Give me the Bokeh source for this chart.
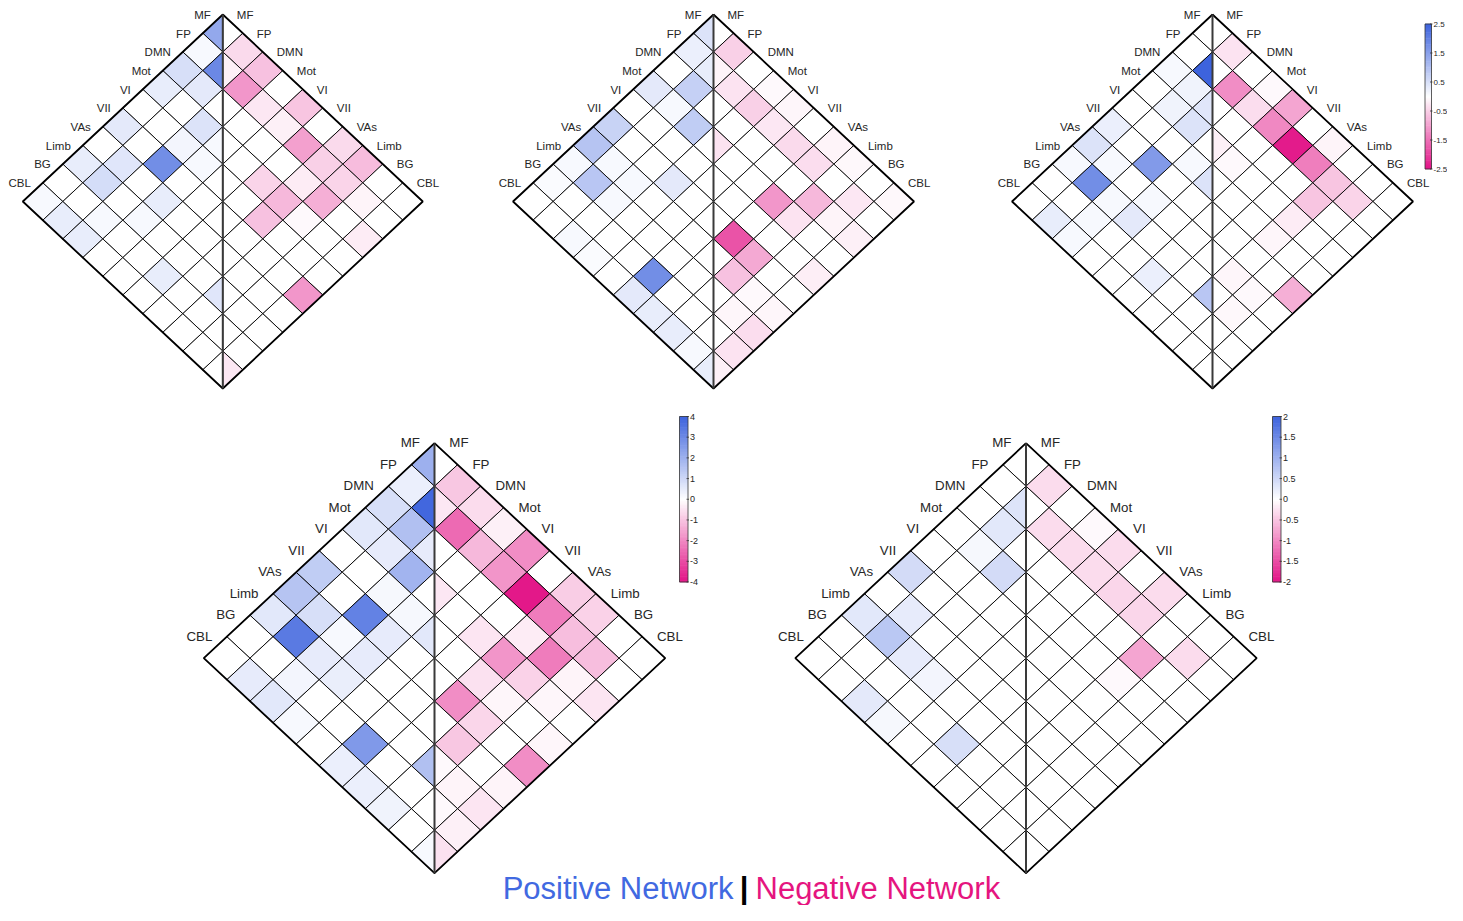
from bokeh.plotting import figure
from bokeh.models import Range1d, ColumnDataSource
from bokeh.transform import linear_cmap
from bokeh.embed import file_html
from bokeh.resources import INLINE
from bokeh.core.properties import value

NETWORKS = ["MF", "FP", "DMN", "Mot", "VI", "VII", "VAs", "Limb", "BG", "CBL"]

# lower triangles: row r (network), col c <= r
P1_POS = [
    [1.4],
    [0.1, 1.9],
    [0.5, 0.35, 0],
    [0.3, 0, 0.45, 0.1],
    [0, 0, 0.15, 0.1, 0],
    [0.35, 0, 1.8, 0, 0, 0],
    [0, 0.4, 0, 0.3, 0, 0, 0],
    [0.3, 0.55, 0, 0.1, 0, 0, 0, 0.4],
    [0, 0, 0.1, 0, 0, 0.3, 0, 0, 0],
    [0.1, 0.3, 0.3, 0, 0, 0, 0, 0, 0, 0],
]
P1_NEG = [
    [0],
    [-0.4, -0.15],
    [-0.65, -1.1, 0],
    [0, -0.25, 0, 0],
    [-0.6, -0.15, 0, 0, 0],
    [0, -1.0, 0, -0.45, 0, 0],
    [-0.4, -0.5, -0.2, -0.75, -0.65, 0, 0],
    [-0.7, -0.45, -0.85, -0.05, 0, 0, 0, 0],
    [0, -0.12, 0, 0, 0, 0, 0, 0, 0],
    [0, 0, -0.2, 0, 0, -1.1, 0, 0, 0, -0.25],
]
P2_POS = [
    [0.45],
    [0.25, 0.3],
    [0, 0.75, 0],
    [0.35, 0.1, 0.8, 0],
    [0, 0, 0, 0, 0],
    [0.7, 0, 0, 0.35, 0, 0],
    [0.95, 0.1, 0.1, 0, 0, 0, 0],
    [0.1, 0.9, 0.1, 0, 0, 0, 0, 0],
    [0.05, 0, 0, 0, 0, 1.8, 0, 0, 0],
    [0, 0, 0.1, 0.05, 0, 0.35, 0.3, 0.3, 0.1, 0.3],
]
P2_NEG = [
    [0],
    [-0.5, -0.12],
    [0, -0.3, 0],
    [-0.05, -0.5, 0, -0.3],
    [-0.1, -0.25, 0, 0, 0],
    [0, -0.4, 0, 0, 0, 0],
    [-0.12, -0.35, 0, -1.1, 0, -1.8, 0],
    [-0.08, 0, -0.75, -0.3, 0, -0.9, -0.65, 0],
    [0, -0.25, -0.12, 0, 0, 0, -0.05, -0.1, 0],
    [-0.08, 0, -0.15, 0, -0.18, 0, -0.1, -0.35, -0.3, -0.15],
]
P3_POS = [
    [0],
    [0, 2.5],
    [0.1, 0.2, 0.4],
    [0, 0.2, 0.45, 0],
    [0, 0, 0, 0.1, 0.45],
    [0.25, 0, 1.6, 0, 0, 0],
    [0.45, 0.1, 0, 0.1, 0, 0, 0],
    [0.1, 1.8, 0.1, 0.35, 0, 0, 0, 0.9],
    [0, 0, 0.1, 0, 0, 0.25, 0, 0, 0],
    [0, 0.3, 0.1, 0, 0, 0, 0, 0, 0, 0],
]
P3_NEG = [
    [0],
    [-0.3, 0],
    [0, -1.2, 0],
    [-0.05, -0.35, 0, -0.15],
    [-0.95, -1.25, 0, -0.05, 0],
    [0, -2.4, 0, 0, 0, 0],
    [-0.12, -1.35, 0, 0, 0, 0, 0],
    [0, -0.6, -0.6, -0.2, -0.1, 0, -0.1, 0],
    [0, -0.45, 0, 0, 0, 0, -0.05, -0.08, 0],
    [0, 0, 0, 0, 0, -0.85, 0, 0, 0, 0],
]
P4_POS = [
    [2.0],
    [0.4, 3.9],
    [0.8, 1.6, 0.5],
    [0.6, 0.5, 1.9, 0],
    [0, 0, 0.2, 0.2, 0.6],
    [1.3, 0, 3.2, 0.5, 0, 0],
    [1.5, 0.8, 0.15, 0.5, 0, 0, 0],
    [0.6, 3.4, 0.5, 0.45, 0, 0, 0, 1.6],
    [0, 0, 0.25, 0, 0, 2.6, 0, 0, 0],
    [0, 0.5, 0.6, 0.15, 0, 0.4, 0.4, 0.3, 0, 0.15],
]
P4_NEG = [
    [0],
    [-0.95, -0.4],
    [-0.6, -2.5, 0],
    [-0.25, -1.2, 0, -0.4],
    [-1.9, -1.8, 0, 0, 0],
    [0, -3.9, 0, -0.45, 0, 0],
    [-0.85, -2.2, -0.3, -1.8, -0.5, -1.9, 0],
    [-0.75, -1.1, -2.2, -0.75, -0.15, -0.7, -0.95, -0.1],
    [0, -1.1, -0.2, -0.15, 0, 0, 0, -0.2, -0.1],
    [0, 0, -0.45, 0, -0.15, -1.9, -0.2, -0.45, -0.25, -0.5],
]
P5_POS = [
    [0],
    [0, 0.35],
    [0, 0.3, 0],
    [0, 0.1, 0.45, 0],
    [0, 0, 0, 0, 0],
    [0.45, 0, 0, 0, 0, 0],
    [0, 0.25, 0, 0, 0, 0, 0],
    [0.3, 0.7, 0.25, 0.12, 0, 0, 0, 0],
    [0, 0, 0, 0, 0, 0.4, 0, 0, 0],
    [0, 0, 0.28, 0.1, 0, 0, 0, 0, 0, 0],
]
P5_NEG = [
    [0],
    [-0.3, 0],
    [0, -0.3, 0],
    [-0.05, -0.3, 0, 0],
    [-0.3, -0.3, 0, 0, 0],
    [0, -0.35, 0, 0, 0, 0],
    [-0.3, -0.35, 0, 0, 0, 0, 0],
    [0, 0, -0.75, -0.05, 0, 0, 0, 0],
    [0, -0.3, 0, 0, 0, 0, 0, 0, 0],
    [0, 0, 0, 0, 0, 0, 0, 0, 0, 0],
]

TOP_RANGE = 2.5
CB3_TICKS = [2.5, 1.5, 0.5, -0.5, -1.5, -2.5]
CB4_TICKS = [4, 3, 2, 1, 0, -1, -2, -3, -4]
CB5_TICKS = [2, 1.5, 1, 0.5, 0, -0.5, -1, -1.5, -2]

TITLE_POS = "Positive Network"
TITLE_SEP = "|"
TITLE_NEG = "Negative Network"

# ---------------- styling ----------------
BLUE = (61, 99, 221)
PINK = (226, 18, 134)
FONT = value("Liberation Sans")
LABEL_COLOR = "#262626"


def make_palette(n=255):
    pal = []
    for i in range(n):
        t = -1 + 2 * i / (n - 1)
        end, f = (PINK, -t) if t < 0 else (BLUE, t)
        rgb = [round(255 + (e - 255) * f) for e in end]
        pal.append("#%02x%02x%02x" % tuple(rgb))
    return pal


PALETTE = make_palette()

p = figure(width=1447, height=905,
           x_range=Range1d(0, 1447), y_range=Range1d(905, 0),
           x_axis_type=None, y_axis_type=None,
           toolbar_location=None, output_backend="svg",
           min_border=0, outline_line_color=None)
p.background_fill_color = "white"

PANELS = [
    dict(pos=P1_POS, neg=P1_NEG, vmax=TOP_RANGE, T=(222.3, 14.0), dx=20.0, dy=18.7,
         fs="11.5px", loff=(-2, -9), roff=(4, -9)),
    dict(pos=P2_POS, neg=P2_NEG, vmax=TOP_RANGE, T=(713.0, 14.0), dx=20.05, dy=18.7,
         fs="11.5px", loff=(-2, -9), roff=(4, -9)),
    dict(pos=P3_POS, neg=P3_NEG, vmax=TOP_RANGE, T=(1212.0, 14.0), dx=20.05, dy=18.7,
         fs="11.5px", loff=(-2, -9), roff=(4, -9)),
    dict(pos=P4_POS, neg=P4_NEG, vmax=max(CB4_TICKS), T=(434.0, 442.7), dx=23.07, dy=21.5,
         fs="13.3px", loff=(-3, -11), roff=(3.3, -11)),
    dict(pos=P5_POS, neg=P5_NEG, vmax=max(CB5_TICKS), T=(1025.5, 442.7), dx=23.07, dy=21.5,
         fs="13.3px", loff=(-3, -11), roff=(3.3, -11)),
]


def pt(P, u, v):
    tx, ty = P["T"]
    return tx + (v - u) * P["dx"], ty + (u + v) * P["dy"]


for P in PANELS:
    xs, ys, vals = [], [], []
    n = len(NETWORKS)
    # positive: left half, cell (u=r, v=c)
    for r, row in enumerate(P["pos"]):
        for c, val in enumerate(row):
            if r > c:
                corners = [(r, c), (r, c + 1), (r + 1, c + 1), (r + 1, c)]
            else:
                corners = [(r, r), (r + 1, r + 1), (r + 1, r)]
            pts = [pt(P, u, v) for u, v in corners]
            xs.append([q[0] for q in pts]); ys.append([q[1] for q in pts]); vals.append(val)
    # negative: right half, cell (u=c, v=r)
    for r, row in enumerate(P["neg"]):
        for c, val in enumerate(row):
            if r > c:
                corners = [(c, r), (c, r + 1), (c + 1, r + 1), (c + 1, r)]
            else:
                corners = [(c, c), (c, c + 1), (c + 1, c + 1)]
            pts = [pt(P, u, v) for u, v in corners]
            xs.append([q[0] for q in pts]); ys.append([q[1] for q in pts]); vals.append(val)
    src = ColumnDataSource(dict(xs=xs, ys=ys, val=vals))
    p.patches("xs", "ys", source=src,
              fill_color=linear_cmap("val", PALETTE, -P["vmax"], P["vmax"]),
              line_color="black", line_width=0.9)

    # outer border and centre line
    T = pt(P, 0, 0); L = pt(P, n, 0); B = pt(P, n, n); R = pt(P, 0, n)
    p.line([T[0], L[0], B[0], R[0], T[0]], [T[1], L[1], B[1], R[1], T[1]],
           line_color="black", line_width=1.8)
    p.line([T[0], B[0]], [T[1], B[1]], line_color="#3a3a3a", line_width=2)

    # labels
    lx, ly, rx, ry = [], [], [], []
    for k in range(n):
        x, y = pt(P, k + 0.5, 0)
        lx.append(x + P["loff"][0]); ly.append(y + P["loff"][1])
        x, y = pt(P, 0, k + 0.5)
        rx.append(x + P["roff"][0]); ry.append(y + P["roff"][1])
    p.text(x=lx, y=ly, text=NETWORKS, text_font=FONT, text_font_size=value(P["fs"]),
           text_align="right", text_baseline="middle", text_color=LABEL_COLOR)
    p.text(x=rx, y=ry, text=NETWORKS, text_font=FONT, text_font_size=value(P["fs"]),
           text_align="left", text_baseline="middle", text_color=LABEL_COLOR)

# ---------------- colour bars ----------------
CBARS = [
    dict(ticks=CB3_TICKS, x0=1424.5, x1=1431.0, y0=23.5, y1=168.5, fs="8px"),
    dict(ticks=CB4_TICKS, x0=679.0, x1=687.5, y0=416.0, y1=581.5, fs="9px"),
    dict(ticks=CB5_TICKS, x0=1272.0, x1=1280.5, y0=416.0, y1=581.5, fs="9px"),
]
for C in CBARS:
    vmax = max(C["ticks"]); vmin = min(C["ticks"])
    nseg = 120
    def ymap(v, C=C, vmax=vmax, vmin=vmin):
        return C["y0"] + (vmax - v) / (vmax - vmin) * (C["y1"] - C["y0"])
    step = (vmax - vmin) / nseg
    mids = [vmin + (i + 0.5) * step for i in range(nseg)]
    src = ColumnDataSource(dict(
        left=[C["x0"]] * nseg, right=[C["x1"]] * nseg,
        top=[ymap(m + step / 2) - 0.3 for m in mids],
        bottom=[ymap(m - step / 2) + 0.3 for m in mids],
        v=mids))
    p.quad(left="left", right="right", top="top", bottom="bottom", source=src,
           fill_color=linear_cmap("v", PALETTE, vmin, vmax), line_color=None)
    p.quad(left=[C["x0"]], right=[C["x1"]], top=[C["y0"]], bottom=[C["y1"]],
           fill_color=None, line_color="#333333", line_width=0.8)
    ty = [ymap(t) for t in C["ticks"]]
    p.segment(x0=[C["x1"] - 1.5] * len(ty), x1=[C["x1"] + 1.0] * len(ty), y0=ty, y1=ty,
              line_color="#333333", line_width=0.8)
    p.text(x=[C["x1"] + 2.0] * len(ty), y=ty, text=["%g" % t for t in C["ticks"]],
           text_font=FONT, text_font_size=value(C["fs"]), text_align="left",
           text_baseline="middle", text_color=LABEL_COLOR)

# ---------------- title ----------------
TITLE_Y = 888
for x, txt, align, col, style in [
        (733, TITLE_POS, "right", "#4169E1", "normal"),
        (743.5, TITLE_SEP, "center", "black", "bold"),
        (755, TITLE_NEG, "left", "#E5157F", "normal")]:
    p.text(x=[x], y=[TITLE_Y], text=[txt], text_font=FONT, text_font_size=value("31px"),
           text_font_style=style, text_align=align, text_baseline="middle",
           text_color=col)

open("out.html", "w").write(file_html(p, INLINE))
